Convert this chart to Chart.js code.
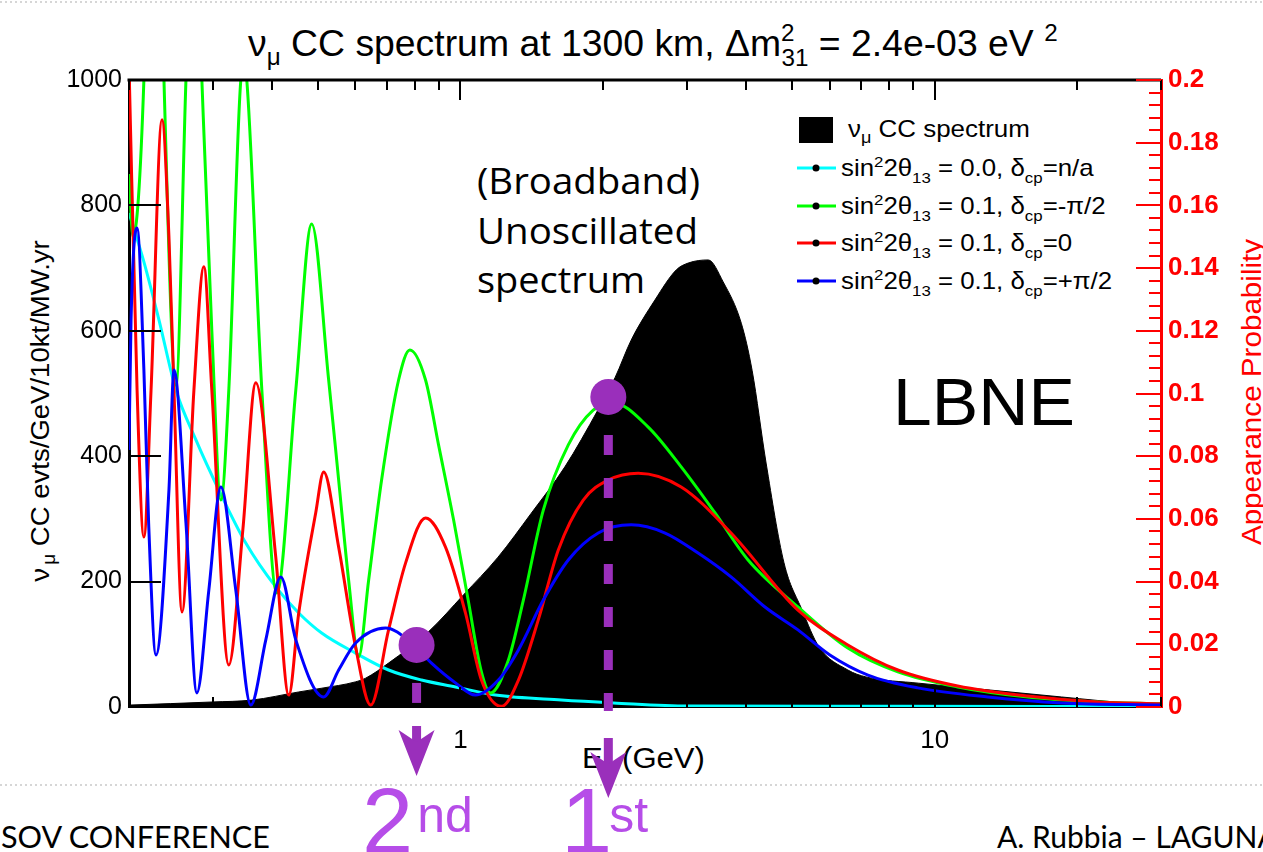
<!DOCTYPE html>
<html>
<head>
<meta charset="utf-8">
<script src="https://cdn.jsdelivr.net/npm/chart.js@4.4.1/dist/chart.umd.min.js"></script>
<style>
html,body{margin:0;padding:0;background:#fff;}
#wrap{position:relative;width:1263px;height:852px;overflow:hidden;background:#fff;}
#ov{position:absolute;left:0;top:0;z-index:0;}
#c{position:absolute;left:0;top:0;z-index:1;}
</style>
</head>
<body>
<div id="wrap">
<svg id="ov" xmlns="http://www.w3.org/2000/svg" width="1263" height="852" style="white-space:pre" font-family="Liberation Sans, Arial, Helvetica, sans-serif">
  <line x1="0" y1="2" x2="1263" y2="2" stroke="#d6d6d6" stroke-width="2" stroke-dasharray="2 3"/>
  <line x1="0" y1="785" x2="1263" y2="785" stroke="#d6d6d6" stroke-width="2" stroke-dasharray="2 3"/>
  <!-- title -->
  <g transform="translate(248,56)"><text class="fit" data-w="810" font-size="37">ν<tspan dy="9" font-size="24">μ</tspan><tspan dy="-9"> CC spectrum at 1300 km,  Δm</tspan><tspan dy="-15" font-size="24">2</tspan><tspan dx="-13" dy="25" font-size="24">31</tspan><tspan dy="-10"> = 2.4e-03 eV </tspan><tspan dy="-15" font-size="24">2</tspan></text></g>
  <!-- axis titles -->
  <g transform="translate(49,411) rotate(-90)"><text class="fit" data-w="342" text-anchor="middle" font-size="26">ν<tspan dx="3" dy="6" font-size="18">μ</tspan><tspan dy="-6"> CC evts/GeV/10kt/MW.yr</tspan></text></g>
  <g transform="translate(1261,392) rotate(-90)"><text class="fit" data-w="307" text-anchor="middle" font-size="27" fill="#ff0000">Appearance Probability</text></g>
  <g transform="translate(582,768)"><text class="fit" data-w="123" font-size="29">E<tspan dy="7" font-size="20">ν</tspan><tspan dy="-7"> (GeV)</tspan></text></g>
  <!-- legend -->
  <rect x="799" y="117" width="34" height="26" fill="#000"/>
  <g transform="translate(848,137)"><text class="fit" data-w="182" font-size="23">ν<tspan dy="6" font-size="16">μ</tspan><tspan dy="-6"> CC spectrum</tspan></text></g>
  <line x1="797" y1="168" x2="836" y2="168" stroke="#00ffff" stroke-width="3"/><circle cx="816" cy="168" r="3.5" fill="#000"/>
  <g transform="translate(841,176)"><text class="fitL" font-size="23">sin<tspan dy="-9" font-size="15">2</tspan><tspan dy="9">2θ</tspan><tspan dy="7" font-size="15">13</tspan><tspan dy="-7"> = 0.0, δ</tspan><tspan dy="7" font-size="15">cp</tspan><tspan dy="-7">=n/a</tspan></text></g>
  <line x1="797" y1="206" x2="836" y2="206" stroke="#00ff00" stroke-width="3"/><circle cx="816" cy="206" r="3.5" fill="#000"/>
  <g transform="translate(841,214)"><text class="fitL" font-size="23">sin<tspan dy="-9" font-size="15">2</tspan><tspan dy="9">2θ</tspan><tspan dy="7" font-size="15">13</tspan><tspan dy="-7"> = 0.1, δ</tspan><tspan dy="7" font-size="15">cp</tspan><tspan dy="-7">=-π/2</tspan></text></g>
  <line x1="797" y1="243" x2="836" y2="243" stroke="#ff0000" stroke-width="3"/><circle cx="816" cy="243" r="3.5" fill="#000"/>
  <g transform="translate(841,251)"><text class="fitL" font-size="23">sin<tspan dy="-9" font-size="15">2</tspan><tspan dy="9">2θ</tspan><tspan dy="7" font-size="15">13</tspan><tspan dy="-7"> = 0.1, δ</tspan><tspan dy="7" font-size="15">cp</tspan><tspan dy="-7">=0</tspan></text></g>
  <line x1="797" y1="281" x2="836" y2="281" stroke="#0000ff" stroke-width="3"/><circle cx="816" cy="281" r="3.5" fill="#000"/>
  <g transform="translate(841,289)"><text class="fitL" font-size="23">sin<tspan dy="-9" font-size="15">2</tspan><tspan dy="9">2θ</tspan><tspan dy="7" font-size="15">13</tspan><tspan dy="-7"> = 0.1, δ</tspan><tspan dy="7" font-size="15">cp</tspan><tspan dy="-7">=+π/2</tspan></text></g>
  <!-- annotations -->
  <g font-family="Open Sans, sans-serif" font-size="36">
    <g transform="translate(477,194)"><text class="fit" data-w="223">(Broadband)</text></g>
    <g transform="translate(477,244)"><text class="fit" data-w="221">Unoscillated</text></g>
    <g transform="translate(477,293)"><text class="fit" data-w="168">spectrum</text></g>
  </g>
  <g transform="translate(893,425)"><text class="fit" data-w="182" font-size="66">LBNE</text></g>
  <g transform="translate(362,853)"><text font-size="92" fill="#b64de8">2<tspan dx="4" dy="-21" font-size="50">nd</tspan></text></g>
  <g transform="translate(561,853)"><text font-size="92" fill="#b64de8">1<tspan dx="-3" dy="-21" font-size="50">st</tspan></text></g>
  <g font-family="Lato, Open Sans, sans-serif" font-size="30">
    <g transform="translate(1,848)"><text class="fit" data-w="269">SOV CONFERENCE</text></g>
    <g transform="translate(997,848)"><text>A. Rubbia – LAGUNA</text></g>
  </g>
</svg>
<canvas id="c" width="1263" height="852"></canvas>
</div>
<script>
// ---------------- data ----------------
// unoscillated nu_mu CC spectrum (events / GeV / 10kt / MW.yr) vs E (GeV)
const spectrumE = [0.2, 0.3, 0.363, 0.456, 0.51, 0.60, 0.631, 0.705, 0.856, 1.015, 1.20, 1.41, 1.66, 1.95, 2.12, 2.29, 2.57, 2.85, 3.02, 3.33, 3.58, 3.91, 4.12, 4.41, 4.81, 5.25, 5.70, 6.56, 7.16, 9.25, 13.1, 18.5, 26.2, 30];
const spectrumEvents = [3, 8, 11, 24, 30, 40, 46, 70, 120, 179, 239, 309, 383, 474, 526, 585, 649, 697, 708, 713, 678, 612, 537, 389, 230, 155, 96, 59, 48, 38, 27, 16, 6, 5];

// appearance probability, sin^2 2theta13 = 0.0
const cyanE = [0.200, 0.215, 0.2313, 0.2512, 0.2768, 0.3094, 0.3526, 0.4078, 0.456, 0.5097, 0.601, 0.7053, 0.8277, 0.9761, 1.185, 1.632, 2.10, 3.02, 8.36, 30];
const cyanP = [0.1576, 0.142, 0.1235, 0.1011, 0.0852, 0.0692, 0.0523, 0.0383, 0.030, 0.0236, 0.0172, 0.0118, 0.0086, 0.0064, 0.0038, 0.0022, 0.0013, 0.0003, 0.0002, 0.0001];

// sin^2 2theta13 = 0.1, delta_cp = -pi/2
const greenE = [0.200, 0.2039, 0.215, 0.2258, 0.237, 0.2512, 0.2637, 0.2741, 0.2849, 0.299, 0.3124, 0.3247, 0.3442, 0.3492, 0.3543, 0.3812, 0.4099, 0.4495, 0.4856, 0.5273, 0.5535, 0.5809, 0.6099, 0.6403, 0.6818, 0.7404, 0.782, 0.844, 0.899, 0.967, 1.038, 1.107, 1.157, 1.262, 1.357, 1.495, 1.688, 1.905, 2.10, 2.488, 2.92, 3.442, 4.04, 5.148, 6.558, 8.36, 11.18, 15.7, 22.03, 30];
const greenP = [0.17, 0.15, 0.20, 0.34, 0.20, 0.1027, 0.20, 0.27, 0.20, 0.12, 0.066, 0.1011, 0.20, 0.204, 0.20, 0.1011, 0.0364, 0.1011, 0.1541, 0.1043, 0.0724, 0.0405, 0.016, 0.0405, 0.0724, 0.1043, 0.1139, 0.1043, 0.0836, 0.0597, 0.0341, 0.0112, 0.0045, 0.015, 0.0341, 0.0628, 0.0836, 0.0947, 0.097, 0.0893, 0.0766, 0.0619, 0.0469, 0.0319, 0.0188, 0.0112, 0.0064, 0.0032, 0.0016, 0.001];

// sin^2 2theta13 = 0.1, delta_cp = 0
const redE = [0.2, 0.208, 0.215, 0.2226, 0.2347, 0.2428, 0.2488, 0.2587, 0.2741, 0.2877, 0.299, 0.3247, 0.3476, 0.3702, 0.4078, 0.4345, 0.456, 0.4951, 0.5147, 0.5535, 0.601, 0.6466, 0.7053, 0.7659, 0.844, 0.9299, 1.0245, 1.107, 1.22, 1.325, 1.459, 1.608, 1.815, 2.049, 2.37, 2.92, 3.72, 5.148, 6.558, 8.36, 11.18, 15.7, 22.03, 30];
const redP = [0.205, 0.1011, 0.0542, 0.1011, 0.1873, 0.1499, 0.1011, 0.0303, 0.1011, 0.1404, 0.1011, 0.0134, 0.0565, 0.1034, 0.0479, 0.0038, 0.030, 0.0619, 0.075, 0.051, 0.0191, 0.0006, 0.0246, 0.0459, 0.0603, 0.051, 0.030, 0.0086, 0.0002, 0.0086, 0.0278, 0.0501, 0.066, 0.0724, 0.0746, 0.0702, 0.0555, 0.0309, 0.0198, 0.0118, 0.0067, 0.0035, 0.0016, 0.001];

// sin^2 2theta13 = 0.1, delta_cp = +pi/2
const blueE = [0.2, 0.202, 0.208, 0.215, 0.22, 0.228, 0.2428, 0.2488, 0.2637, 0.2781, 0.2947, 0.3124, 0.3359, 0.3613, 0.3886, 0.418, 0.4495, 0.5147, 0.5535, 0.601, 0.6951, 0.7962, 0.8688, 0.9761, 1.0754, 1.202, 1.325, 1.495, 1.688, 1.952, 2.291, 2.701, 3.17, 3.72, 4.386, 5.148, 6.01, 7.23, 9.21, 12.93, 18.51, 30];
const blueP = [0.082, 0.1234, 0.1528, 0.1075, 0.0587, 0.0166, 0.0692, 0.1075, 0.0587, 0.0045, 0.0373, 0.0702, 0.0373, 0.0006, 0.0214, 0.0415, 0.0214, 0.0032, 0.0118, 0.0204, 0.0252, 0.0198, 0.014, 0.0077, 0.0038, 0.0086, 0.0182, 0.0341, 0.0469, 0.0555, 0.0581, 0.0555, 0.0491, 0.0415, 0.0319, 0.0246, 0.0166, 0.0102, 0.0061, 0.0032, 0.0013, 0.0006];

// highlighted oscillation maxima (2nd, 1st)
const markerE = [0.808, 2.05];
const markerP = [0.0198, 0.0989];

// axis ticks
const leftTicks = [0, 200, 400, 600, 800, 1000];
const rightTicks = [0, 0.02, 0.04, 0.06, 0.08, 0.1, 0.12, 0.14, 0.16, 0.18, 0.2];
const xTickLabels = [1, 10];
const xMinorTicks = [0.2, 0.3, 0.4, 0.5, 0.6, 0.7, 0.8, 0.9, 1, 2, 3, 4, 5, 6, 7, 8, 9, 10, 20, 30];

// ---------------- helpers / plugins ----------------
const pts = (xs, ys) => xs.map((v, i) => ({x: v, y: ys[i]}));
const FONT = "'Liberation Sans', Arial, Helvetica, sans-serif";

const frameTicks = {
  id: 'frameTicks',
  afterDatasetsDraw(chart) {
    const {ctx, chartArea: a, scales: {x, y, yP}} = chart;
    ctx.save();
    ctx.strokeStyle = '#000';
    ctx.lineWidth = 3;
    ctx.beginPath(); ctx.moveTo(a.left - 1.5, a.top); ctx.lineTo(a.right, a.top); ctx.stroke();
    ctx.lineWidth = 2;
    ctx.beginPath();
    xMinorTicks.forEach(v => {
      const px = Math.round(x.getPixelForValue(v));
      const L = xTickLabels.includes(v) ? 20 : 10;
      ctx.moveTo(px, a.top); ctx.lineTo(px, a.top + L);
      ctx.moveTo(px, a.bottom); ctx.lineTo(px, a.bottom - L);
    });
    leftTicks.forEach(v => {
      const py = Math.round(y.getPixelForValue(v));
      ctx.moveTo(a.left, py); ctx.lineTo(a.left + 32, py);
    });
    ctx.stroke();
    ctx.strokeStyle = '#ff0000';
    ctx.beginPath();
    for (let k = 0; k <= 50; k++) {
      const v = k * 0.004;
      const py = Math.round(yP.getPixelForValue(v));
      const L = (k % 5 === 0) ? 25 : 12;
      ctx.moveTo(a.right, py); ctx.lineTo(a.right - L, py);
    }
    ctx.stroke();
    ctx.restore();
  }
};

const markerGuides = {
  id: 'markerGuides',
  afterDatasetsDraw(chart) {
    const {ctx, chartArea: a, scales: {x, yP}} = chart;
    const col = '#9a2fbb';
    const arrowTop = [726, 738];
    const arrowTip = [776, 798];
    ctx.save();
    ctx.strokeStyle = col; ctx.fillStyle = col;
    markerE.forEach((e, i) => {
      const px = x.getPixelForValue(e);
      const py = yP.getPixelForValue(markerP[i]);
      ctx.setLineDash([20, 23]);
      ctx.lineWidth = 9;
      ctx.beginPath(); ctx.moveTo(px, py + 38); ctx.lineTo(px, a.bottom + 4); ctx.stroke();
      ctx.setLineDash([]);
      const top = arrowTop[i], tip = arrowTip[i];
      ctx.fillRect(px - 4.5, top, 9, tip - top - 30);
      ctx.beginPath();
      ctx.moveTo(px, tip); ctx.lineTo(px - 18, tip - 46); ctx.lineTo(px, tip - 34); ctx.lineTo(px + 18, tip - 46);
      ctx.closePath(); ctx.fill();
    });
    ctx.restore();
  }
};

Chart.defaults.font.family = FONT;

const lineDS = (label, xs, ys, color, order) => ({
  label, data: pts(xs, ys), yAxisID: 'yP', borderColor: color, backgroundColor: color,
  borderWidth: 3, pointRadius: 0, fill: false, cubicInterpolationMode: 'monotone', order
});

new Chart(document.getElementById('c'), {
  type: 'line',
  data: {
    datasets: [
      {label: 'markers', data: pts(markerE, markerP), yAxisID: 'yP', showLine: false,
       pointRadius: 18, pointHoverRadius: 18, pointBackgroundColor: '#9a2fbb', pointBorderWidth: 0,
       borderColor: '#9a2fbb', order: 0, clip: false},
      lineDS('sin²2θ13 = 0.1, δcp=+π/2', blueE, blueP, '#0000ff', 1),
      lineDS('sin²2θ13 = 0.1, δcp=0', redE, redP, '#ff0000', 2),
      lineDS('sin²2θ13 = 0.1, δcp=-π/2', greenE, greenP, '#00ff00', 3),
      lineDS('sin²2θ13 = 0.0, δcp=n/a', cyanE, cyanP, '#00ffff', 4),
      {label: 'νμ CC spectrum', data: pts(spectrumE, spectrumEvents), yAxisID: 'y',
       borderColor: '#000', backgroundColor: '#000', borderWidth: 1, pointRadius: 0,
       fill: 'origin', cubicInterpolationMode: 'monotone', order: 10}
    ]
  },
  options: {
    responsive: false, animation: false, devicePixelRatio: 1, events: [],
    layout: {padding: {top: 80, left: 0, right: 0, bottom: 0}},
    plugins: {legend: {display: false}, tooltip: {enabled: false}, title: {display: false}},
    scales: {
      x: {
        type: 'logarithmic', position: 'bottom', min: 0.2, max: 30,
        afterBuildTicks: s => { s.ticks = xTickLabels.map(v => ({value: v})); },
        ticks: {callback: v => String(v), font: {size: 26}, color: '#000', padding: 18, maxRotation: 0, autoSkip: false},
        grid: {display: false, drawTicks: false},
        border: {display: true, color: '#000', width: 2},
        afterFit: s => { s.height = 852 - 707; }
      },
      y: {
        position: 'left', min: 0, max: 1000,
        afterBuildTicks: s => { s.ticks = leftTicks.map(v => ({value: v})); },
        ticks: {font: {size: 25}, color: '#000', padding: 7, callback: v => String(v)},
        grid: {display: false, drawTicks: false},
        border: {display: true, color: '#000', width: 3},
        afterFit: s => { s.width = 129; }
      },
      yP: {
        position: 'right', min: 0, max: 0.2,
        afterBuildTicks: s => { s.ticks = rightTicks.map(v => ({value: v})); },
        ticks: {font: {size: 26, weight: 'bold'}, color: '#ff0000', padding: 7, callback: v => String(+v.toFixed(2))},
        grid: {display: false, drawTicks: false},
        border: {display: true, color: '#ff0000', width: 3},
        afterFit: s => { s.width = 1263 - 1161; }
      }
    }
  },
  plugins: [frameTicks, markerGuides]
});

// fit overlay texts to the widths measured on the reference
function fitTexts() {
  document.querySelectorAll('text.fit').forEach(t => {
    t.removeAttribute('transform');
    const w = t.getBBox().width;
    if (w > 0) t.setAttribute('transform', `scale(${(+t.dataset.w) / w},1)`);
  });
  const rows = [...document.querySelectorAll('text.fitL')];
  rows.forEach(t => t.removeAttribute('transform'));
  const s = 253 / rows[0].getBBox().width;
  rows.forEach(t => t.setAttribute('transform', `scale(${s},1)`));
}
fitTexts();
if (document.fonts && document.fonts.ready) document.fonts.ready.then(fitTexts);
</script>
</body>
</html>
